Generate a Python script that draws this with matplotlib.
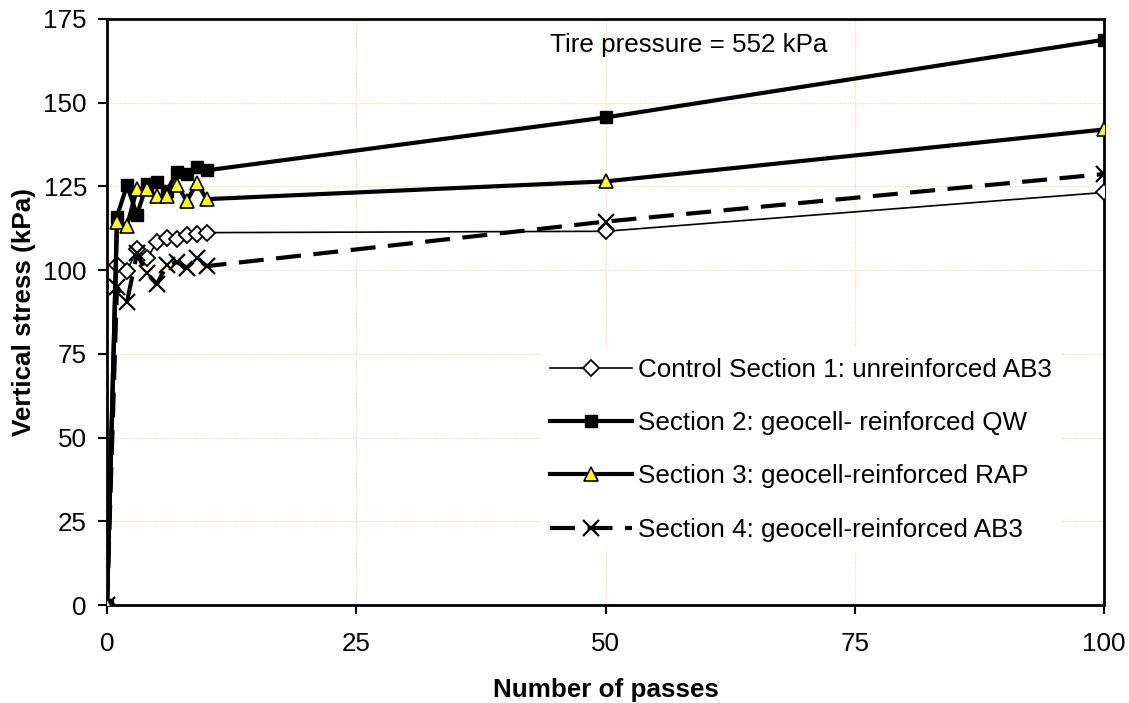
import matplotlib
matplotlib.use("Agg")
import matplotlib.pyplot as plt
from matplotlib.ticker import MultipleLocator

plt.rcParams['font.family'] = ['Liberation Sans', 'DejaVu Sans']

passes = [0, 1, 2, 3, 4, 5, 6, 7, 8, 9, 10, 50, 100]
control_ab3 = [0, 101.6, 99.6, 106.3, 103.5, 108.3, 109.6, 109.4, 110.6, 110.8, 111.2, 111.6, 123.2]
geocell_qw = [0, 116.0, 125.3, 116.5, 125.8, 126.4, 123.5, 129.3, 128.6, 130.9, 129.8, 145.6, 168.8]
geocell_rap = [0, 114.5, 113.3, 124.2, 124.2, 122.2, 122.2, 125.5, 120.6, 126.0, 121.2, 126.5, 142.0]
geocell_ab3 = [0, 95.0, 90.5, 105.0, 99.0, 95.8, 101.5, 102.4, 100.7, 103.5, 101.2, 114.5, 128.7]

labels = ["Control Section 1: unreinforced AB3",
          "Section 2: geocell- reinforced QW",
          "Section 3: geocell-reinforced RAP",
          "Section 4: geocell-reinforced AB3"]

FS = 18.7

fig = plt.figure(figsize=(11.29, 7.03), dpi=100)
ax = fig.add_axes([0.0948, 0.1394, 0.8832, 0.8336])

ax.plot(passes, control_ab3, color='black', lw=1.2, marker='D', markersize=8,
        markerfacecolor='white', markeredgecolor='black', markeredgewidth=1.3, label=labels[0], zorder=3)
ax.plot(passes, geocell_qw, color='black', lw=3, marker='s', markersize=8,
        markerfacecolor='black', markeredgecolor='black', label=labels[1], zorder=4)
ax.plot(passes, geocell_rap, color='black', lw=3, marker='^', markersize=10,
        markerfacecolor='#ffff00', markeredgecolor='black', markeredgewidth=1.2, label=labels[2], zorder=5)
ax.plot(passes, geocell_ab3, color='black', lw=3, ls=(0, (6, 3)), marker='x', markersize=11,
        markeredgewidth=1.6, label=labels[3], zorder=3)

ax.set_xlim(0, 100)
ax.set_ylim(0, 175)
ax.xaxis.set_major_locator(MultipleLocator(25))
ax.yaxis.set_major_locator(MultipleLocator(25))
ax.grid(True, color='#ffd9b3', lw=0.9, ls=(0, (1, 1)), zorder=0)
for sp in ax.spines.values():
    sp.set_linewidth(2)
ax.tick_params(axis='both', labelsize=FS, width=1.5, length=6.5, direction='out')
ax.tick_params(axis='y', pad=8)
ax.tick_params(axis='x', pad=13)
ax.set_xlabel("Number of passes", fontsize=FS, fontweight='bold', labelpad=16)
ax.set_ylabel("Vertical stress (kPa)", fontsize=FS, fontweight='bold', labelpad=5)

ax.text(44.4, 167.2, "Tire pressure = 552 kPa", fontsize=FS, va='center', ha='left')

leg = fig.legend(loc='upper left', bbox_to_anchor=(0.478, 0.506), frameon=True, fontsize=FS,
                 handlelength=3.15, handletextpad=0.23, labelspacing=1.13, borderpad=0.4,
                 borderaxespad=0)
leg.get_frame().set_edgecolor('none')
leg.get_frame().set_facecolor('white')
leg.get_frame().set_alpha(1)

fig.savefig("out.png", dpi=100)
